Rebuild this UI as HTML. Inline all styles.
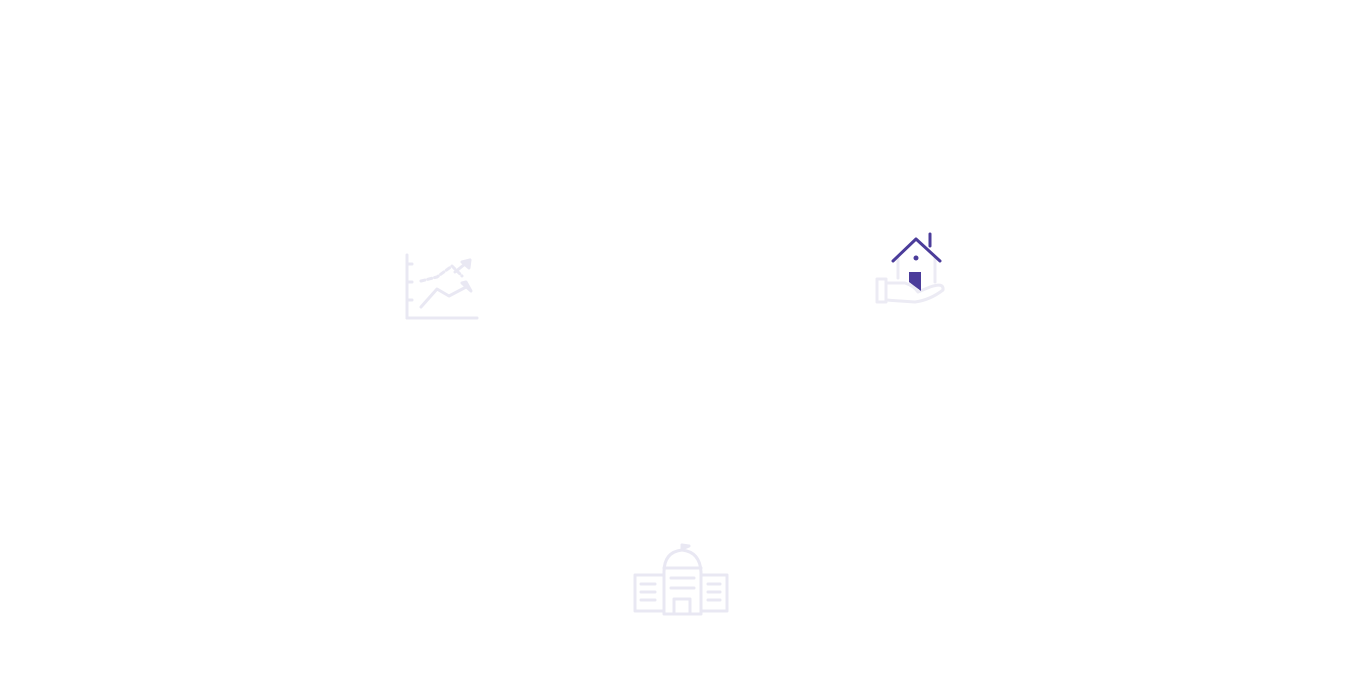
<!DOCTYPE html>
<html><head><meta charset="utf-8"><style>
html,body{margin:0;padding:0;background:#fff;width:1360px;height:694px;overflow:hidden}
</style></head><body>
<svg width="1360" height="694" viewBox="0 0 1360 694" xmlns="http://www.w3.org/2000/svg" fill="none" stroke-linecap="round" stroke-linejoin="round">
<!-- chart icon -->
<g stroke="#e9e8f3" stroke-width="3">
<line x1="407" y1="255" x2="407" y2="318"/>
<line x1="407" y1="318" x2="477" y2="318"/>
<line x1="407" y1="264" x2="412" y2="264"/>
<line x1="407" y1="282" x2="412" y2="282"/>
<line x1="407" y1="300" x2="412" y2="300"/>
<polyline points="421,281 437,277 452,266 462,276" stroke-dasharray="4 3"/>
<polyline points="421,307 437,289 449,296 468,286"/>
<path d="M462,262 L470,260 L469,268 Z" fill="#e9e8f3"/>
<path d="M462,283 L471,291 L466,282 Z" fill="#e9e8f3"/>
<line x1="455" y1="272" x2="470" y2="260"/>
</g>
<!-- house icon -->
<g stroke="#ecebf4" stroke-width="3">
<rect x="877" y="279" width="9" height="23"/>
<path d="M886,283 L905,283 Q914,286 918,292 L930,287 Q944,282 943,290 Q930,300 915,302 L886,300"/>
<line x1="898" y1="258" x2="898" y2="278"/>
<line x1="935" y1="258" x2="935" y2="282"/>
</g>
<g stroke="#4b3c9a" stroke-width="3">
<polyline points="893,261 916,239 940,261"/>
<line x1="930" y1="234" x2="930" y2="246"/>
</g>
<circle cx="916" cy="258" r="2.5" fill="#4b3c9a"/>
<path d="M909,272 L921,272 L921,291 L909,282 Z" fill="#4b3c9a"/>
<!-- building icon -->
<g stroke="#e9e8f3" stroke-width="3">
<path d="M664,614 L664,572 Q664,552 682,550 Q700,552 701,572 L701,614 Z"/>
<line x1="682" y1="550" x2="682" y2="545"/>
<path d="M682,545 L689,546 L682,549" fill="#e9e8f3"/>
<line x1="664" y1="568" x2="701" y2="568"/>
<rect x="635" y="575" width="29" height="36"/>
<rect x="701" y="575" width="26" height="36"/>
<line x1="641" y1="584" x2="655" y2="584"/>
<line x1="641" y1="592" x2="655" y2="592"/>
<line x1="641" y1="600" x2="655" y2="600"/>
<line x1="708" y1="584" x2="720" y2="584"/>
<line x1="708" y1="592" x2="720" y2="592"/>
<line x1="708" y1="600" x2="720" y2="600"/>
<line x1="671" y1="578" x2="694" y2="578"/>
<line x1="671" y1="588" x2="694" y2="588"/>
<rect x="674" y="599" width="16" height="15"/>
</g>
</svg>
</body></html>
